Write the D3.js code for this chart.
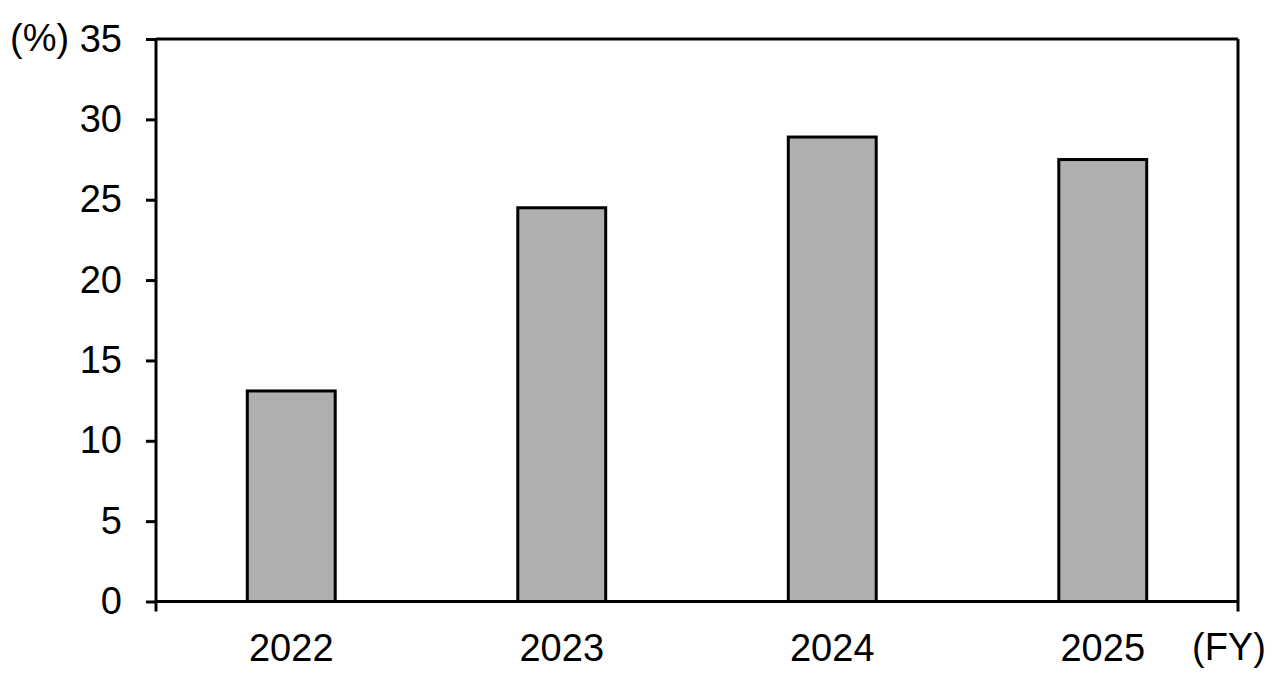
<!DOCTYPE html>
<html>
<head>
<meta charset="utf-8">
<script src="https://cdn.jsdelivr.net/npm/d3@7"></script>
<style>
  body { margin: 0; background: #fff; }
  svg text { font-family: "Liberation Sans", Arial, sans-serif; fill: #000; }
</style>
</head>
<body>
<div id="chart"></div>
<script>
var years = ["2022", "2023", "2024", "2025"];
var values = [13.1, 24.5, 28.9, 27.5];
var yTicks = [0, 5, 10, 15, 20, 25, 30, 35];

var W = 1280, H = 681;
var margin = {top: 39, right: 42, bottom: 79.5, left: 156},
    width = W - margin.left - margin.right,
    height = H - margin.top - margin.bottom;

var svg = d3.select("#chart")
  .append("svg")
    .attr("width", W)
    .attr("height", H)
  .append("g")
    .attr("transform", "translate(" + margin.left + "," + margin.top + ")");

var x = d3.scaleBand()
  .domain(years)
  .range([0, width])
  .paddingInner(0.675)
  .paddingOuter(0.3375);

var y = d3.scaleLinear()
  .domain([0, 35])
  .range([height, 0]);

// bars
svg.selectAll("rect.bar")
  .data(values)
  .enter()
  .append("rect")
    .attr("class", "bar")
    .attr("x", function(d, i) { return x(years[i]); })
    .attr("y", function(d) { return y(d); })
    .attr("width", x.bandwidth())
    .attr("height", function(d) { return height - y(d); })
    .style("fill", "#afafaf")
    .style("stroke", "#000")
    .style("stroke-width", 3);

// frame: top and right lines
svg.append("line")
  .attr("x1", 0).attr("x2", width)
  .attr("y1", y(35)).attr("y2", y(35))
  .style("stroke", "#000").style("stroke-width", 3);
svg.append("line")
  .attr("x1", width).attr("x2", width)
  .attr("y1", y(35)).attr("y2", height + 10)
  .style("stroke", "#000").style("stroke-width", 3);

// Y axis
var yAxis = svg.append("g")
  .call(d3.axisLeft(y).tickValues(yTicks).tickSize(10).tickPadding(24));
yAxis.select(".domain").attr("d", "M0," + y(35) + "V" + (height + 10))
  .style("stroke-width", 3);
yAxis.selectAll(".tick line").style("stroke-width", 3);
yAxis.selectAll(".tick text")
  .style("font-size", "38px")
  .style("font-family", "'Liberation Sans', Arial, sans-serif");

// X axis
var xAxis = svg.append("g")
  .attr("transform", "translate(0," + height + ")")
  .call(d3.axisBottom(x).tickSize(0).tickPadding(33));
xAxis.select(".domain").attr("d", "M0,0H" + width).style("stroke-width", 3);
xAxis.selectAll(".tick text")
  .style("font-size", "38px")
  .style("font-family", "'Liberation Sans', Arial, sans-serif");

// unit labels
svg.append("text")
  .attr("x", -146)
  .attr("y", y(35))
  .attr("dy", "0.32em")
  .style("font-size", "38px")
  .text("(%)");

svg.append("text")
  .attr("x", width - 46)
  .attr("y", height + 32)
  .attr("dy", "0.71em")
  .style("font-size", "38px")
  .text("(FY)");
</script>
</body>
</html>
